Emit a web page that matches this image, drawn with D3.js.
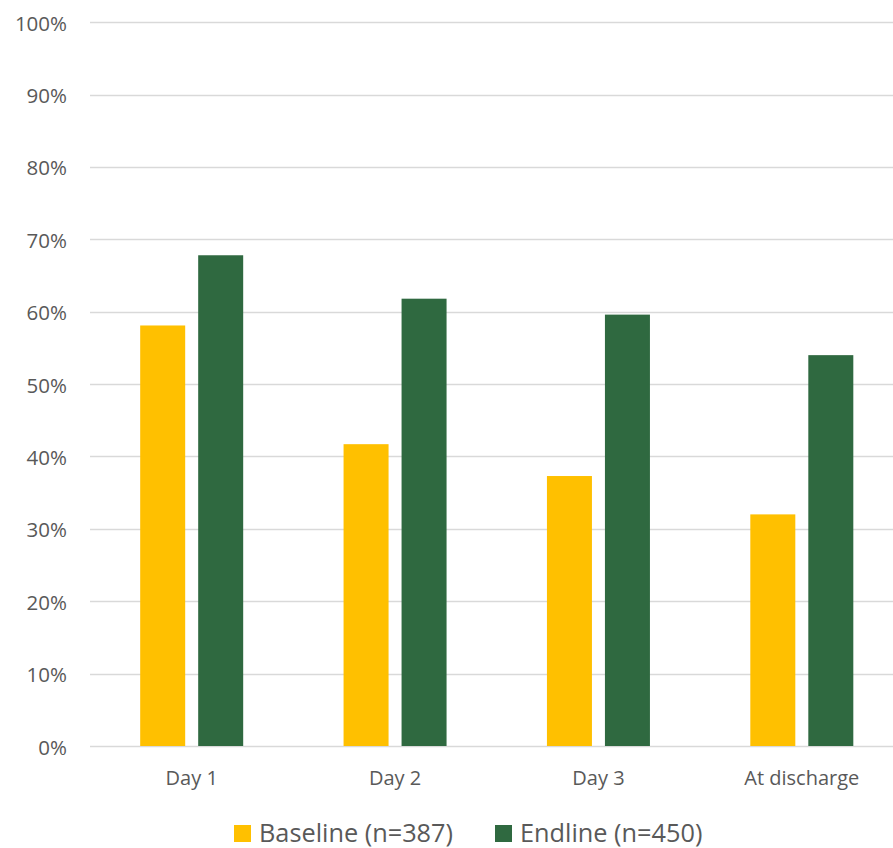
<!DOCTYPE html>
<html>
<head>
<meta charset="utf-8">
<script src="https://cdn.jsdelivr.net/npm/d3@7"></script>
<style>
  html, body { margin: 0; padding: 0; background: #fff; }
  svg { display: block; }
  text { font-family: "Open Sans", "Liberation Sans", sans-serif; fill: #595959; }
</style>
</head>
<body>
<svg id="chart" width="893" height="848"></svg>
<script>
const categories = ["Day 1", "Day 2", "Day 3", "At discharge"];
const seriesNames = ["Baseline (n=387)", "Endline (n=450)"];
const baseline = [0.581, 0.417, 0.373, 0.320];
const endline = [0.678, 0.618, 0.596, 0.540];
const yTicks = [0, 0.1, 0.2, 0.3, 0.4, 0.5, 0.6, 0.7, 0.8, 0.9, 1.0];
const colors = ["#FFC000", "#2F6940"];

const seriesValues = [baseline, endline];
const data = categories.map((c, i) => ({
  category: c,
  values: seriesNames.map((s, j) => ({ series: s, value: seriesValues[j][i], idx: j }))
}));

const svg = d3.select("#chart");
const plotLeft = 90, plotRight = 903.5, plotTop = 22.2, plotBottom = 746;

const y = d3.scaleLinear().domain([0, 1]).range([plotBottom, plotTop]);
const x0 = d3.scaleBand().domain(categories).range([plotLeft, plotRight]).padding(0);
const groupW = 103;
const x1 = d3.scaleBand().domain(seriesNames).range([-groupW / 2, groupW / 2]).paddingInner(2 - groupW / 58).paddingOuter(0);

// gridlines
const yAxis = d3.axisLeft(y).tickValues(yTicks).tickFormat(d3.format(".0%")).tickSize(0).tickPadding(0);
svg.append("g")
  .selectAll("line")
  .data(yTicks)
  .join("line")
  .attr("x1", plotLeft)
  .attr("x2", 893)
  .attr("y1", d => Math.round(y(d)) + 0.5)
  .attr("y2", d => Math.round(y(d)) + 0.5)
  .attr("stroke", "#d9d9d9")
  .attr("stroke-width", 1.3);

// y tick labels
const gy = svg.append("g").attr("transform", `translate(67,0)`).call(yAxis);
gy.select(".domain").remove();
gy.selectAll("text")
  .attr("x", 0)
  .attr("dy", null)
  .attr("y", 8)
  .attr("font-size", 20.5)
  .attr("fill", "#595959")
  .attr("text-anchor", "end");

// bars
const groups = svg.append("g")
  .selectAll("g")
  .data(data)
  .join("g")
  .attr("transform", d => `translate(${x0(d.category) + x0.bandwidth() / 2},0)`);

groups.selectAll("rect")
  .data(d => d.values)
  .join("rect")
  .attr("x", d => x1(d.series))
  .attr("width", x1.bandwidth())
  .attr("y", d => y(d.value))
  .attr("height", d => y(0) - y(d.value))
  .attr("fill", d => colors[d.idx]);

// x axis labels
const xAxis = d3.axisBottom(x0).tickSize(0).tickPadding(0);
const gx = svg.append("g").attr("transform", `translate(0,${plotBottom})`).call(xAxis);
gx.select(".domain").remove();
gx.selectAll("text")
  .attr("y", 39)
  .attr("dy", null)
  .attr("font-size", 20)
  .attr("fill", "#595959");

// legend
const legendX = [234, 495];
const legend = svg.append("g")
  .selectAll("g")
  .data(seriesNames)
  .join("g")
  .attr("transform", (d, i) => `translate(${legendX[i]},825)`);
legend.append("rect")
  .attr("width", 17).attr("height", 17)
  .attr("fill", (d, i) => colors[i]);
legend.append("text")
  .attr("x", 25).attr("y", 17)
  .attr("font-size", 25.3)
  .text(d => d);
</script>
</body>
</html>
